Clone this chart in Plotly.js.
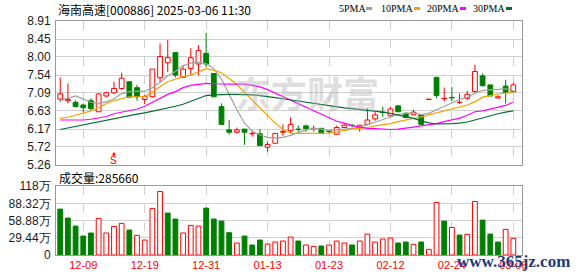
<!DOCTYPE html>
<html>
<head>
<meta charset="utf-8">
<script src="https://cdn.plot.ly/plotly-3.0.1.min.js"></script>
<style>html,body{margin:0;padding:0;background:#fff;}#chart{width:578px;height:276px;}</style>
</head>
<body>
<div id="chart"></div>
<script>
// ---------------- data ----------------
const dates = ['12-04','12-05','12-06','12-09','12-10','12-11','12-12','12-13','12-16','12-17','12-18','12-19',
  '12-20','12-23','12-24','12-25','12-26','12-27','12-30','12-31',
  '01-02','01-03','01-06','01-07','01-08','01-09','01-10','01-13','01-14','01-15','01-16','01-17',
  '01-20','01-21','01-22','01-23','01-24','01-27',
  '02-05','02-06','02-07','02-10','02-11','02-12','02-13','02-14','02-17','02-18','02-19','02-20','02-21',
  '02-24','02-25','02-26','02-27','02-28','03-03','03-04','03-05','03-06'];

const open  = [6.93,6.89,6.85,6.78,6.89,6.61,7.01,7.09,7.20,7.37,7.22,6.92,6.99,7.47,7.85,8.11,7.48,7.71,7.82,8.09,
  7.58,6.74,6.15,6.09,6.17,6.05,6.05,5.71,5.81,6.09,6.13,6.17,6.25,6.18,6.19,6.12,6.04,6.21,
  6.27,6.23,6.29,6.43,6.60,6.51,6.76,6.57,6.53,6.53,6.92,7.48,6.94,6.97,6.84,6.95,7.12,7.52,7.29,6.96,7.26,7.12];
const high  = [7.48,7.33,6.90,6.82,6.95,7.07,7.12,7.37,7.60,7.38,7.29,7.03,7.69,8.34,8.43,8.11,7.76,8.22,8.30,8.61,
  7.58,6.82,6.40,6.21,6.17,6.13,6.17,5.86,6.06,6.29,6.47,6.26,6.29,6.26,6.19,6.15,6.26,6.30,
  6.29,6.27,6.70,6.61,6.74,6.74,6.76,6.60,6.66,6.55,6.93,7.50,7.22,7.24,7.07,7.14,7.80,7.58,7.29,7.03,7.42,7.35];
const low   = [6.86,6.82,6.72,6.60,6.64,6.61,6.98,7.06,7.16,6.98,6.89,6.80,6.97,7.37,7.62,7.48,7.46,7.54,7.54,7.74,
  6.99,6.27,6.03,6.06,5.77,5.98,5.75,5.60,5.81,6.00,6.06,6.09,6.10,6.10,6.06,6.06,6.03,6.20,
  6.21,6.10,6.28,6.38,6.48,6.49,6.60,6.46,6.52,6.27,6.92,6.95,6.87,6.88,6.80,6.90,7.10,7.25,7.01,6.94,6.82,7.12];
const close = [7.06,6.92,6.74,6.71,6.69,7.06,7.09,7.20,7.46,6.98,6.99,7.00,7.69,8.01,7.98,7.54,7.69,7.98,8.16,7.82,
  6.99,6.29,6.09,6.15,6.09,6.06,5.75,5.78,6.06,6.11,6.29,6.16,6.18,6.19,6.06,6.11,6.21,6.27,
  6.26,6.27,6.40,6.53,6.59,6.68,6.61,6.46,6.60,6.29,6.93,7.02,6.95,6.96,6.85,7.05,7.63,7.27,7.01,6.99,7.10,7.29];
const prevClose = 7.15;   // close of the session before the first shown day

// volume in 万 (10k)
const volume = [78.5,63.2,49.5,32.4,37.6,62.6,37.6,48.9,54.1,42.7,33.6,25.6,79.7,108.7,71.7,61.5,37.6,50.6,49.5,80.2,
  61.5,58.0,38.1,20.5,32.4,17.1,25.6,18.8,22.2,23.9,30.7,23.9,17.1,14.8,15.4,17.1,23.9,20.5,
  17.1,23.9,35.8,22.2,27.3,29.0,20.5,22.2,18.2,22.2,9.7,89.9,58.0,47.2,34.1,35.3,91.6,59.7,35.8,22.2,43.8,28.566];

const ma5  = [6.89,6.96,7.01,6.93,6.85,6.82,6.86,6.94,7.07,7.12,7.13,7.13,7.22,7.35,7.52,7.63,7.78,7.84,7.86,7.83,
  7.70,7.44,7.05,6.66,6.32,6.12,6.02,5.96,5.95,5.96,6.01,6.08,6.15,6.18,6.17,6.14,6.15,6.17,
  6.19,6.22,6.28,6.35,6.41,6.48,6.54,6.57,6.58,6.54,6.57,6.66,6.75,6.83,6.92,6.97,7.08,7.15,7.16,7.18,7.19,7.14];
const ma10 = [6.44,6.47,6.52,6.57,6.63,6.71,6.82,6.89,6.95,6.99,6.99,6.99,7.10,7.25,7.37,7.44,7.50,7.54,7.63,7.70,
  7.66,7.60,7.45,7.30,7.10,6.90,6.70,6.50,6.32,6.16,6.07,6.06,6.06,6.06,6.06,6.07,6.10,6.14,
  6.17,6.19,6.21,6.25,6.28,6.31,6.36,6.40,6.43,6.48,6.53,6.58,6.64,6.69,6.74,6.78,6.86,6.98,7.02,7.06,7.08,7.10];
const ma20 = [6.40,6.40,6.40,6.40,6.42,6.45,6.49,6.56,6.60,6.63,6.68,6.75,6.85,6.95,7.05,7.12,7.22,7.28,7.30,7.33,
  7.32,7.31,7.31,7.31,7.31,7.28,7.24,7.17,7.08,7.00,6.90,6.82,6.73,6.65,6.55,6.45,6.37,6.32,
  6.26,6.22,6.19,6.18,6.17,6.16,6.17,6.19,6.22,6.25,6.28,6.31,6.36,6.41,6.45,6.52,6.61,6.63,6.68,6.72,6.77,6.85];
const ma30 = [6.16,6.20,6.24,6.28,6.32,6.36,6.40,6.44,6.48,6.52,6.55,6.58,6.62,6.66,6.70,6.75,6.80,6.87,6.95,7.02,
  7.04,7.05,7.05,7.05,7.05,7.04,7.02,7.00,6.97,6.94,6.91,6.88,6.85,6.82,6.79,6.76,6.73,6.71,
  6.69,6.67,6.65,6.63,6.60,6.57,6.53,6.48,6.44,6.38,6.33,6.30,6.30,6.31,6.32,6.35,6.40,6.46,6.52,6.56,6.60,6.63];

const priceTicks = [5.26,5.72,6.17,6.63,7.09,7.54,8.00,8.45,8.91];
const volTicks = [0,29.44,58.88,88.32,118];
const volTickText = ['0','29.44万','58.88万','88.32万','118万'];
const xTickDates = ['12-09','12-19','12-31','01-13','01-23','02-12','02-24','03-06'];
const maNames = ['5PMA','10PMA','20PMA','30PMA'];
const signals = [{date:'12-13', label:'S'}];
const stockTitle = '海南高速[000886] 2025-03-06 11:30';
const volLabel = '成交量:285660';

// ---------------- styling ----------------
const RED = '#ff0000', GREEN = '#008000';
const maColors = ['#a0a0a0','#f5a300','#ff00ff','#006f2e'];
const W = 578, H = 276;
const PX = p => p / W, PY = p => 1 - p / H;

const idx = dates.map((d,i)=>i);
const upI = idx.filter(i => close[i] >= open[i]);
const dnI = idx.filter(i => close[i] < open[i]);

function bodyTrace(list, fill, line){
  return {type:'bar', x:list, base:list.map(i=>Math.min(open[i],close[i])),
    y:list.map(i=>Math.abs(close[i]-open[i])), width:0.62,
    marker:{color:fill, line:{color:line, width:1}}, xaxis:'x', yaxis:'y', hoverinfo:'skip', showlegend:false};
}
function wickTrace(list, color){
  const xs=[], ys=[];
  list.forEach(i=>{
    const top=Math.max(open[i],close[i]), bot=Math.min(open[i],close[i]);
    xs.push(i,i,null,i,i,null); ys.push(high[i],top,null,bot,low[i],null);
  });
  return {type:'scatter', mode:'lines', x:xs, y:ys, line:{color:color,width:1}, xaxis:'x', yaxis:'y',
    hoverinfo:'skip', showlegend:false, connectgaps:false};
}
const volUp = idx.filter(i => close[i] >= (i ? close[i-1] : prevClose));
const volDn = idx.filter(i => close[i] < (i ? close[i-1] : prevClose));
function volTrace(list, fill, line){
  return {type:'bar', x:list, y:list.map(i=>volume[i]), width:0.62,
    marker:{color:fill, line:{color:line,width:1}}, xaxis:'x2', yaxis:'y2', hoverinfo:'skip', showlegend:false};
}
const mas = [ma5, ma10, ma20, ma30];
const maTraces = mas.map((m,k)=>({type:'scatter', mode:'lines', x:idx, y:m,
  line:{color:maColors[k], width:1.2}, xaxis:'x', yaxis:'y', hoverinfo:'skip', showlegend:false}));

const traces = [
  bodyTrace(upI, '#ffffff', RED), bodyTrace(dnI, GREEN, GREEN),
  wickTrace(upI, RED), wickTrace(dnI, GREEN),
  ...maTraces,
  volTrace(volUp, '#ffffff', RED), volTrace(volDn, GREEN, GREEN)
];

const tickIdx = xTickDates.map(d => dates.indexOf(d));
const xRange = [-0.55, 60.13];
const dom = [PX(56), PX(522)];
const gridC = '#d0d0d0';

const axX = {domain:dom, range:xRange, tickvals:tickIdx, showgrid:true, gridcolor:gridC, griddash:'dash',
  gridwidth:1, zeroline:false, showline:true, mirror:true, linecolor:'#999', linewidth:1, ticks:'', fixedrange:true};

const annotations = [
  {text:stockTitle, xref:'paper', yref:'paper', x:PX(56), y:PY(9), xanchor:'left', yanchor:'middle', showarrow:false,
   font:{family:'Noto Sans CJK SC', size:12, color:'#000'}},
  {text:volLabel, xref:'paper', yref:'paper', x:PX(57), y:PY(177), xanchor:'left', yanchor:'middle', showarrow:false,
   font:{family:'Noto Sans CJK SC', size:12, color:'#000'}},
  {text:'东方财富', xref:'paper', yref:'paper', x:PX(307), y:PY(92), xanchor:'center', yanchor:'middle', showarrow:false,
   font:{family:'Noto Sans CJK SC', size:36, color:'rgba(180,180,180,0.45)', weight:700}},
  {text:'www.365jz.com', xref:'paper', yref:'paper', x:PX(513), y:PY(261), xanchor:'center', yanchor:'middle', showarrow:false,
   font:{family:'Liberation Serif', size:17, color:'#1f3c78', weight:700}}
];
const legendX = [[338,366],[380,414],[426,460],[472,506]];
const shapes = [];
maNames.forEach((n,k)=>{
  annotations.push({text:n, xref:'paper', yref:'paper', x:PX(legendX[k][0]-1), y:PY(8.5), xanchor:'left', yanchor:'middle',
    showarrow:false, font:{family:'Liberation Serif', size:10, color:'#000'}});
  shapes.push({type:'rect', xref:'paper', yref:'paper', x0:PX(legendX[k][1]), x1:PX(legendX[k][1]+6),
    y0:PY(10), y1:PY(7), fillcolor:maColors[k], line:{width:0}});
});
signals.forEach(s=>{
  const i = dates.indexOf(s.date);
  annotations.push({text:s.label, x:i, xref:'x', yref:'paper', y:PY(160.5), xanchor:'center', yanchor:'middle',
    showarrow:false, font:{family:'Liberation Sans', size:10, color:RED}});
  annotations.push({text:'▲', x:i, xref:'x', yref:'paper', y:PY(152.5), xanchor:'center', yanchor:'middle',
    showarrow:false, font:{family:'DejaVu Sans', size:5, color:RED}});
});

const layout = {
  width:W, height:H, margin:{l:0,r:0,t:0,b:0}, paper_bgcolor:'#fff', plot_bgcolor:'#fff',
  showlegend:false, barmode:'overlay', bargap:0,
  xaxis:Object.assign({}, axX, {anchor:'y', showticklabels:false}),
  yaxis:{domain:[PY(165), PY(21)], range:[5.26,8.91], tickvals:priceTicks, ticktext:priceTicks.map(v=>v.toFixed(2)),
    showgrid:true, gridcolor:gridC, zeroline:false, showline:true, mirror:true, linecolor:'#999', ticks:'',
    ticklabelstandoff:2, tickfont:{family:'Liberation Sans', size:12, color:'#1a1a1a'}, anchor:'x', fixedrange:true},
  xaxis2:Object.assign({}, axX, {anchor:'y2', showticklabels:true, ticktext:xTickDates,
    tickfont:{family:'Liberation Sans', size:11, color:RED}}),
  yaxis2:{domain:[PY(255), PY(186)], range:[0,118], tickvals:volTicks, ticktext:volTickText,
    showgrid:true, gridcolor:gridC, zeroline:false, showline:true, mirror:true, linecolor:'#999', ticks:'',
    ticklabelstandoff:2, tickfont:{family:'Liberation Sans', size:12, color:'#1a1a1a'}, anchor:'x2', fixedrange:true},
  annotations, shapes
};
Plotly.newPlot('chart', traces, layout, {staticPlot:true, displayModeBar:false});
</script>
</body>
</html>
